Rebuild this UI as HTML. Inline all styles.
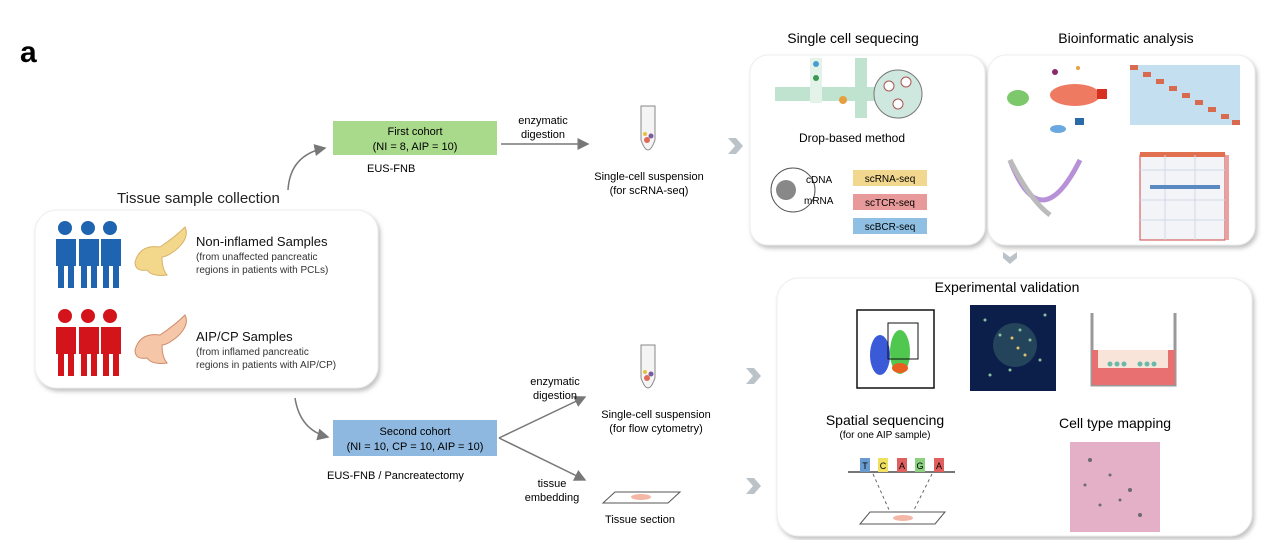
<!DOCTYPE html>
<html><head><meta charset="utf-8"><style>
html,body{margin:0;padding:0;background:#fff;}
svg{display:block;font-family:"Liberation Sans",Arial,sans-serif;}
</style></head><body>
<svg width="1271" height="540" viewBox="0 0 1271 540" xmlns="http://www.w3.org/2000/svg">
<defs>
<filter id="sh" x="-5%" y="-5%" width="110%" height="115%"><feDropShadow dx="2" dy="3" stdDeviation="2" flood-color="#999" flood-opacity="0.6"/></filter>
<marker id="ar" markerWidth="8" markerHeight="8" refX="7" refY="4" orient="auto"><path d="M0,0 L8,4 L0,8 z" fill="#777"/></marker>
</defs>
<text x="20" y="62" font-size="30" font-weight="bold">a</text>

<rect x="35" y="210" width="343" height="178" rx="22" fill="#fff" filter="url(#sh)" stroke="#eee"/>
<text x="117" y="203" font-size="15" fill="#222">Tissue sample collection</text>
<g fill="#1f64b0">
<circle cx="65" cy="228" r="7"/><circle cx="88" cy="228" r="7"/><circle cx="110" cy="228" r="7"/>
<rect x="56" y="239" width="20" height="27"/><rect x="79" y="239" width="20" height="27"/><rect x="101" y="239" width="20" height="27"/>
<rect x="58" y="266" width="6" height="22"/><rect x="68" y="266" width="6" height="22"/>
<rect x="81" y="266" width="6" height="22"/><rect x="91" y="266" width="6" height="22"/>
<rect x="103" y="266" width="6" height="22"/><rect x="113" y="266" width="6" height="22"/>
</g>
<g fill="#d4141b">
<circle cx="65" cy="316" r="7"/><circle cx="88" cy="316" r="7"/><circle cx="110" cy="316" r="7"/>
<rect x="56" y="327" width="20" height="27"/><rect x="79" y="327" width="20" height="27"/><rect x="101" y="327" width="20" height="27"/>
<rect x="58" y="354" width="6" height="22"/><rect x="68" y="354" width="6" height="22"/>
<rect x="81" y="354" width="6" height="22"/><rect x="91" y="354" width="6" height="22"/>
<rect x="103" y="354" width="6" height="22"/><rect x="113" y="354" width="6" height="22"/>
</g>
<path d="M135,262 q5,-18 25,-15 q15,-10 25,-20 q5,10 -8,22 q-10,8 -15,8 q0,12 5,18 q-15,2 -20,-5 q-12,2 -12,-8z" fill="#f3d78a" stroke="#d9b26a"/>
<path d="M135,350 q5,-18 25,-15 q15,-10 25,-20 q5,10 -8,22 q-10,8 -15,8 q0,12 5,18 q-15,2 -20,-5 q-12,2 -12,-8z" fill="#f5c7a8" stroke="#d08a6a"/>
<text x="196" y="246" font-size="13" fill="#111">Non-inflamed Samples</text>
<text x="196" y="260" font-size="10" fill="#333">(from unaffected pancreatic</text>
<text x="196" y="273" font-size="10" fill="#333">regions in patients with PCLs)</text>
<text x="196" y="341" font-size="13" fill="#111">AIP/CP Samples</text>
<text x="196" y="355" font-size="10" fill="#333">(from inflamed pancreatic</text>
<text x="196" y="368" font-size="10" fill="#333">regions in patients with AIP/CP)</text>

<path d="M288,190 Q290,155 325,148" fill="none" stroke="#777" stroke-width="1.5" marker-end="url(#ar)"/>
<path d="M295,398 Q300,430 328,437" fill="none" stroke="#777" stroke-width="1.5" marker-end="url(#ar)"/>

<rect x="333" y="121" width="164" height="34" fill="#a9d98b"/>
<text x="415" y="135" font-size="11" text-anchor="middle">First cohort</text>
<text x="415" y="150" font-size="11" text-anchor="middle">(NI = 8, AIP = 10)</text>
<text x="367" y="172" font-size="11">EUS-FNB</text>
<line x1="501" y1="144" x2="588" y2="144" stroke="#777" stroke-width="1.5" marker-end="url(#ar)"/>
<text x="543" y="124" font-size="11" text-anchor="middle">enzymatic</text>
<text x="543" y="138" font-size="11" text-anchor="middle">digestion</text>
<path d="M641,106 L641,140 Q648,160 655,140 L655,106z" fill="#f4f4f4" stroke="#888"/>
<circle cx="647" cy="140" r="3" fill="#e06a5a"/><circle cx="651" cy="136" r="2.5" fill="#7a5aa0"/><circle cx="645" cy="134" r="2" fill="#e8c040"/>
<text x="649" y="180" font-size="11" text-anchor="middle">Single-cell suspension</text>
<text x="649" y="194" font-size="11" text-anchor="middle">(for scRNA-seq)</text>

<rect x="333" y="420" width="164" height="36" fill="#8fb8e0"/>
<text x="415" y="435" font-size="11" text-anchor="middle">Second cohort</text>
<text x="415" y="450" font-size="11" text-anchor="middle">(NI = 10, CP = 10, AIP = 10)</text>
<text x="327" y="479" font-size="11">EUS-FNB / Pancreatectomy</text>
<line x1="499" y1="438" x2="585" y2="397" stroke="#777" stroke-width="1.5" marker-end="url(#ar)"/>
<line x1="499" y1="438" x2="585" y2="480" stroke="#777" stroke-width="1.5" marker-end="url(#ar)"/>
<text x="555" y="385" font-size="11" text-anchor="middle">enzymatic</text>
<text x="555" y="399" font-size="11" text-anchor="middle">digestion</text>
<text x="552" y="487" font-size="11" text-anchor="middle">tissue</text>
<text x="552" y="501" font-size="11" text-anchor="middle">embedding</text>
<path d="M641,345 L641,378 Q648,398 655,378 L655,345z" fill="#f4f4f4" stroke="#888"/>
<circle cx="647" cy="378" r="3" fill="#e06a5a"/><circle cx="651" cy="374" r="2.5" fill="#7a5aa0"/><circle cx="645" cy="372" r="2" fill="#e8c040"/>
<text x="656" y="418" font-size="11" text-anchor="middle">Single-cell suspension</text>
<text x="656" y="432" font-size="11" text-anchor="middle">(for flow cytometry)</text>
<path d="M615,492 L680,492 L668,503 L603,503z" fill="#fff" stroke="#555"/>
<ellipse cx="641" cy="497" rx="10" ry="3" fill="#f4b6a6"/>
<text x="640" y="523" font-size="11" text-anchor="middle">Tissue section</text>

<g fill="#bcc3c8">
<path d="M728,138 l8,0 l7,8 l-7,8 l-8,0 l7,-8z"/>
<path d="M966,122 l8,0 l7,8 l-7,8 l-8,0 l7,-8z"/>
<path d="M1003,252 l0,6 l7,6 l7,-6 l0,-6 l-7,5z"/>
<path d="M746,368 l8,0 l7,8 l-7,8 l-8,0 l7,-8z"/>
<path d="M746,478 l8,0 l7,8 l-7,8 l-8,0 l7,-8z"/>
<path d="M1003,475 l8,0 l7,8 l-7,8 l-8,0 l7,-8z"/>
</g>

<text x="853" y="43" font-size="14" text-anchor="middle">Single cell sequecing</text>
<rect x="750" y="55" width="235" height="190" rx="18" fill="#fff" filter="url(#sh)" stroke="#eee"/>
<rect x="775" y="87" width="140" height="14" fill="#bfe3cf"/>
<rect x="810" y="58" width="12" height="45" fill="#e4f3ea"/>
<rect x="855" y="58" width="12" height="60" fill="#bfe3cf"/>
<circle cx="898" cy="94" r="24" fill="#cfe8df" stroke="#777"/>
<circle cx="889" cy="86" r="5" fill="#fff" stroke="#a55"/><circle cx="906" cy="82" r="5" fill="#fff" stroke="#a55"/><circle cx="898" cy="104" r="5" fill="#fff" stroke="#a55"/>
<circle cx="816" cy="64" r="3" fill="#4a9bd4"/><circle cx="816" cy="78" r="3" fill="#3a9a50"/><circle cx="843" cy="100" r="4" fill="#e6a040"/>
<text x="852" y="142" font-size="12" text-anchor="middle">Drop-based method</text>
<circle cx="793" cy="190" r="22" fill="#fff" stroke="#555"/>
<circle cx="786" cy="190" r="10" fill="#888"/>
<text x="806" y="183" font-size="10">cDNA</text><text x="804" y="204" font-size="10">mRNA</text>
<rect x="853" y="170" width="74" height="16" fill="#f2d88e"/><text x="890" y="182" font-size="10" text-anchor="middle">scRNA-seq</text>
<rect x="853" y="194" width="74" height="16" fill="#e89a9a"/><text x="890" y="206" font-size="10" text-anchor="middle">scTCR-seq</text>
<rect x="853" y="218" width="74" height="16" fill="#8fc0e4"/><text x="890" y="230" font-size="10" text-anchor="middle">scBCR-seq</text>

<text x="1126" y="43" font-size="14" text-anchor="middle">Bioinformatic analysis</text>
<rect x="988" y="55" width="267" height="190" rx="18" fill="#fff" filter="url(#sh)" stroke="#eee"/>
<ellipse cx="1018" cy="98" rx="11" ry="8" fill="#7cc86a"/>
<ellipse cx="1075" cy="95" rx="25" ry="11" fill="#ee7a62"/>
<rect x="1097" y="89" width="10" height="10" fill="#d83020"/>
<ellipse cx="1058" cy="129" rx="8" ry="4" fill="#6aa8e0"/><rect x="1075" y="118" width="9" height="7" fill="#2a6aa6"/>
<circle cx="1055" cy="72" r="3" fill="#8a2a6a"/><circle cx="1078" cy="68" r="2" fill="#e8a040"/>
<rect x="1130" y="65" width="110" height="60" fill="#c4e0f0"/>
<g fill="#d86a50">
<rect x="1130" y="65" width="8" height="5"/><rect x="1143" y="72" width="8" height="5"/><rect x="1156" y="79" width="8" height="5"/><rect x="1169" y="86" width="8" height="5"/><rect x="1182" y="93" width="8" height="5"/><rect x="1195" y="100" width="8" height="5"/><rect x="1208" y="107" width="8" height="5"/><rect x="1221" y="114" width="8" height="5"/><rect x="1232" y="120" width="8" height="5"/>
</g>
<path d="M1010,160 Q1040,240 1080,160" fill="none" stroke="#b890d8" stroke-width="5"/>
<path d="M1010,160 Q1030,200 1050,215" fill="none" stroke="#bbb" stroke-width="5"/>
<rect x="1140" y="155" width="85" height="85" fill="#f2f4f8" stroke="#c44"/>
<rect x="1140" y="152" width="85" height="5" fill="#e07050"/>
<rect x="1225" y="155" width="4" height="85" fill="#e8a0a0"/>
<g stroke="#d0d8e6"><line x1="1140" y1="170" x2="1225" y2="170"/><line x1="1140" y1="200" x2="1225" y2="200"/><line x1="1140" y1="220" x2="1225" y2="220"/><line x1="1165" y1="155" x2="1165" y2="240"/><line x1="1195" y1="155" x2="1195" y2="240"/></g>
<rect x="1150" y="185" width="70" height="4" fill="#5a88c0"/>

<rect x="777" y="278" width="475" height="258" rx="22" fill="#fff" filter="url(#sh)" stroke="#eee"/>
<text x="1007" y="292" font-size="14" text-anchor="middle">Experimental validation</text>
<rect x="857" y="310" width="77" height="78" fill="#fff" stroke="#111" stroke-width="1.5"/>
<ellipse cx="880" cy="355" rx="10" ry="20" fill="#3a5ad8"/>
<ellipse cx="900" cy="352" rx="10" ry="22" fill="#50c850"/>
<ellipse cx="900" cy="368" rx="8" ry="5" fill="#e86020"/>
<rect x="888" y="323" width="30" height="36" fill="none" stroke="#111"/>
<rect x="970" y="305" width="86" height="86" fill="#0c1f4a"/>
<circle cx="1015" cy="345" r="22" fill="#3a6a6a" opacity="0.5"/>
<g fill="#8ac0a0"><circle cx="985" cy="320" r="1.5"/><circle cx="1000" cy="335" r="1.5"/><circle cx="1020" cy="330" r="1.5"/><circle cx="1040" cy="360" r="1.5"/><circle cx="1010" cy="370" r="1.5"/><circle cx="1030" cy="340" r="1.5"/><circle cx="990" cy="375" r="1.5"/><circle cx="1045" cy="315" r="1.5"/></g>
<g fill="#e0c070"><circle cx="1018" cy="348" r="1.5"/><circle cx="1025" cy="355" r="1.5"/><circle cx="1012" cy="338" r="1.5"/></g>
<path d="M1092,313 L1092,385 L1175,385 L1175,313" fill="none" stroke="#999" stroke-width="3"/>
<rect x="1092" y="350" width="83" height="35" fill="#e87070"/>
<rect x="1098" y="350" width="70" height="18" fill="#f8e4d8"/>
<g fill="#6ab8a8"><circle cx="1110" cy="364" r="2.5"/><circle cx="1117" cy="364" r="2.5"/><circle cx="1124" cy="364" r="2.5"/><circle cx="1140" cy="364" r="2.5"/><circle cx="1147" cy="364" r="2.5"/><circle cx="1154" cy="364" r="2.5"/></g>
<text x="885" y="425" font-size="14" text-anchor="middle">Spatial sequencing</text>
<text x="885" y="438" font-size="10" text-anchor="middle">(for one AIP sample)</text>
<line x1="848" y1="472" x2="955" y2="472" stroke="#777" stroke-width="2"/>
<rect x="860" y="458" width="10" height="14" fill="#6a9bd0"/>
<rect x="878" y="458" width="10" height="14" fill="#f0e060"/>
<rect x="897" y="458" width="10" height="14" fill="#e06060"/>
<rect x="915" y="458" width="10" height="14" fill="#8cd080"/>
<rect x="934" y="458" width="10" height="14" fill="#e06060"/>
<g font-size="9" text-anchor="middle"><text x="865" y="469">T</text><text x="883" y="469">C</text><text x="902" y="469">A</text><text x="920" y="469">G</text><text x="939" y="469">A</text></g>
<line x1="873" y1="474" x2="890" y2="512" stroke="#666" stroke-dasharray="3,3"/>
<line x1="932" y1="474" x2="913" y2="512" stroke="#666" stroke-dasharray="3,3"/>
<path d="M870,512 L945,512 L935,524 L860,524z" fill="#fff" stroke="#555"/>
<ellipse cx="903" cy="518" rx="10" ry="3" fill="#f4b6a6"/>
<text x="1115" y="428" font-size="14" text-anchor="middle">Cell type mapping</text>
<rect x="1070" y="442" width="90" height="90" fill="#e4b0c8"/>
<g fill="#6a6a70"><circle cx="1090" cy="460" r="2"/><circle cx="1110" cy="475" r="1.5"/><circle cx="1130" cy="490" r="2"/><circle cx="1100" cy="505" r="1.5"/><circle cx="1140" cy="515" r="2"/><circle cx="1120" cy="500" r="1.5"/><circle cx="1085" cy="485" r="1.5"/></g>
</svg>
</body></html>
